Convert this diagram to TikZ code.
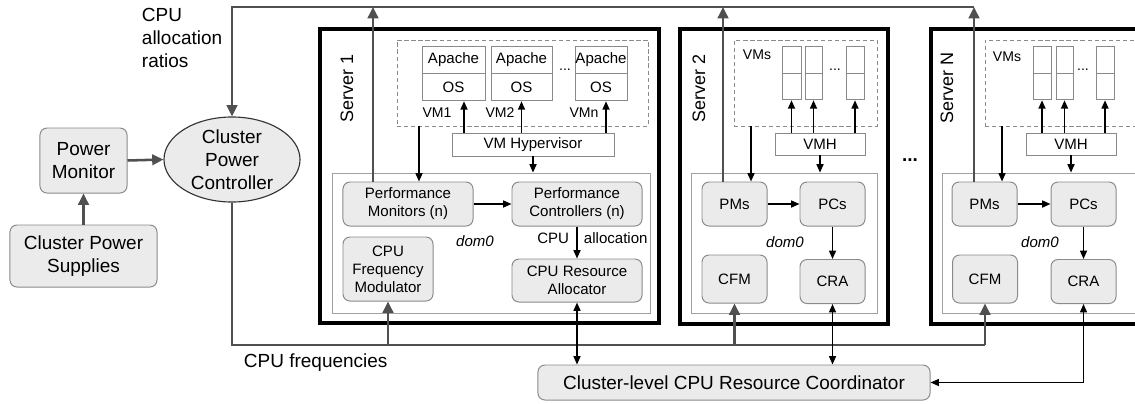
\documentclass[tikz,border=0pt]{standalone}
\usepackage{fontspec}
\setmainfont{Liberation Sans}
\usetikzlibrary{shapes.geometric, arrows.meta, calc, positioning}

\definecolor{boxfill}{HTML}{EBEBEB}
\definecolor{boxline}{HTML}{8A8A8A}
\definecolor{busgray}{HTML}{505050}

\newcommand{\lblfont}{\fontsize{13.5}{16.4}\selectfont}
\newcommand{\boxfont}{\fontsize{10.7}{12.8}\selectfont}
\newcommand{\vmfont}{\fontsize{10}{12}\selectfont}
\newcommand{\srvfont}{\fontsize{12.8}{15}\selectfont}

\begin{document}
\begin{tikzpicture}[x=0.025cm, y=-0.025cm,
  module/.style={draw=boxline, fill=boxfill, rounded corners=5pt, align=center, font=\boxfont, inner sep=0pt, line width=0.7pt},
  vmbox/.style={draw=boxline, fill=white, inner sep=0pt, font=\boxfont, line width=0.6pt},
  vmarea/.style={draw=boxline, dash pattern=on 3pt off 2pt, line width=0.6pt, inner sep=0pt},
  dombox/.style={draw=boxline!80, line width=0.6pt, inner sep=0pt},
  server/.style={draw=black, line width=2.2pt},
  srvlabel/.style={rotate=90, font=\srvfont},
  gline/.style={draw=busgray, line width=1.8pt},
  garrow/.style={gline, -{Triangle[length=8pt, width=7.5pt]}},
  sarrow/.style={black, line width=1.1pt, -{Triangle[length=6pt, width=5pt]}},
  darrow/.style={black, line width=1pt, {Triangle[length=6pt, width=5pt]}-{Triangle[length=6pt, width=5pt]}},
]
\useasboundingbox (0,0) rectangle (1135,403);
\clip (0,0) rectangle (1135,403);

% cluster power side
\node[module, minimum width=2.175cm, minimum height=1.625cm, font=\lblfont] (pm) at (83.5,160.5) {Power\\Monitor};
\node[module, minimum width=3.675cm, minimum height=1.55cm, font=\lblfont] (cps) at (83.5,256) {Cluster Power\\Supplies};
\node[ellipse, draw=black!80, fill=boxfill, line width=0.8pt, inner sep=-1pt, minimum width=3.4cm, minimum height=2.125cm, align=center, font=\lblfont] (cpc) at (232,159.5) {Cluster\\Power\\Controller};
\node[anchor=west, align=left, font=\lblfont] (ratios) at (137,38) {CPU\\allocation\\ratios};
\node[anchor=west, font=\lblfont] (freqs) at (239,363) {CPU frequencies};

\draw[server] (320,29) rectangle (659,323);
\draw[server] (680,29) rectangle (888,324);
\draw[server] (931,29) rectangle (1160,324);
\node[srvlabel] (s1) at (347,88) {Server 1};
\node[srvlabel] (s2) at (699,88) {Server 2};
\node[srvlabel] (sn) at (947,88) {Server N};
\node[font=\lblfont\bfseries] (gap) at (910,160) {...};

% server 1
\node[dombox, minimum width=7.95cm, minimum height=3.5cm] (dom1) at (491,243) {};
\node[vmarea, minimum width=6.275cm, minimum height=2.15cm] (vms1) at (522.5,83) {};
\node[vmbox, minimum width=1.575cm, minimum height=0.675cm] (ap1) at (453.5,59.5) {Apache};
\node[vmbox, minimum width=1.575cm, minimum height=0.675cm, below=0pt of ap1] (os1) {OS};
\node[vmbox, minimum width=1.525cm, minimum height=0.675cm] (ap2) at (521.5,59.5) {Apache};
\node[vmbox, minimum width=1.525cm, minimum height=0.675cm, below=0pt of ap2] (os2) {OS};
\node[vmbox, minimum width=1.3cm, minimum height=0.675cm] (apn) at (601,59.5) {Apache};
\node[vmbox, minimum width=1.3cm, minimum height=0.675cm, below=0pt of apn] (osn) {OS};
\node[font=\vmfont] (dots1) at (565,70) {...};
\node[font=\vmfont] (l1) at (437,113) {VM1};
\node[font=\vmfont] (l2) at (500,113) {VM2};
\node[font=\vmfont] (ln) at (584,113) {VMn};
\node[vmbox, minimum width=4.05cm, minimum height=0.575cm] (hv1) at (533,144.5) {VM Hypervisor};
\node[module, minimum width=3.25cm, minimum height=1.1cm] (pmon1) at (408,204) {Performance\\Monitors (n)};
\node[module, minimum width=3.25cm, minimum height=1.1cm] (pctl1) at (577,204) {Performance\\Controllers (n)};
\node[module, minimum width=2.25cm, minimum height=1.6cm] (cfm1) at (388,269) {CPU\\Frequency\\Modulator};
\node[module, minimum width=3.25cm, minimum height=1.075cm] (cra1) at (577,280.5) {CPU Resource\\Allocator};
\node[font=\boxfont\itshape] (d1) at (475,241) {dom0};
\node[font=\boxfont, anchor=east] (cpu1) at (574,238) {CPU};
\node[font=\boxfont, anchor=west] (alloc1) at (579,238) {allocation};

\draw[sarrow] ($(os1.south |- hv1.north)+(10.5,0)$) -- ($(os1.south)+(10.5,0)$);
\draw[sarrow] (os2.south |- hv1.north) -- (os2.south);
\draw[sarrow] ($(osn.south |- hv1.north)+(5,0)$) -- ($(osn.south)+(5,0)$);
\draw[sarrow] ($(pmon1.north |- vms1.south)+(11,0)$) -- ($(pmon1.north)+(11,0)$);
\draw[sarrow] (hv1.south) -- (hv1.south |- dom1.north);
\draw[sarrow] (pmon1.east) -- (pctl1.west);
\draw[sarrow] (pctl1.south) -- (cra1.north);

% server 2
\node[dombox, minimum width=4.65cm, minimum height=3.5cm] (dom2) at (784,243) {};
\node[vmarea, minimum width=3.575cm, minimum height=2.15cm] (vms2) at (805.5,83) {};
\node[font=\vmfont] (vl2) at (757,55) {VMs};
\node[vmbox, minimum width=0.475cm, minimum height=0.675cm] (vt21) at (791.5,59.5) {};
\node[vmbox, minimum width=0.475cm, minimum height=0.65cm, below=0pt of vt21] (vb21) {};
\node[vmbox, minimum width=0.425cm, minimum height=0.675cm] (vt22) at (813.5,59.5) {};
\node[vmbox, minimum width=0.425cm, minimum height=0.65cm, below=0pt of vt22] (vb22) {};
\node[vmbox, minimum width=0.45cm, minimum height=0.675cm] (vt23) at (855,59.5) {};
\node[vmbox, minimum width=0.45cm, minimum height=0.65cm, below=0pt of vt23] (vb23) {};
\node[font=\vmfont] (dots2) at (835,70) {...};
\node[vmbox, minimum width=2.25cm, minimum height=0.55cm] (vmh2) at (820,144) {VMH};
\node[module, minimum width=1.625cm, minimum height=1.1cm] (pms2) at (734.5,204) {PMs};
\node[module, minimum width=1.625cm, minimum height=1.1cm] (pcs2) at (832.5,204) {PCs};
\node[module, minimum width=1.625cm, minimum height=1.2cm] (cfm2) at (734.5,279) {CFM};
\node[module, minimum width=1.625cm, minimum height=1.1cm] (cra2) at (832.5,281.5) {CRA};
\node[font=\boxfont\itshape] (d2) at (785,242) {dom0};

\draw[sarrow] (vb21.south |- vmh2.north) -- (vb21.south);
\draw[sarrow] (vb22.south |- vmh2.north) -- (vb22.south);
\draw[sarrow] (vb23.south |- vmh2.north) -- (vb23.south);
\draw[sarrow] ($(pms2.north |- vms2.south)+(16.5,0)$) -- ($(pms2.north)+(16.5,0)$);
\draw[sarrow] (vmh2.south) -- (vmh2.south |- dom2.north);
\draw[sarrow] (pms2.east) -- (pcs2.west);
\draw[sarrow] (pcs2.south) -- (cra2.north);

% server N
\node[dombox, minimum width=5.2cm, minimum height=3.5cm] (domN) at (1046,243) {};
\node[vmarea, minimum width=4.125cm, minimum height=2.15cm] (vmsN) at (1067.5,83) {};
\node[font=\vmfont] (vlN) at (1007,57) {VMs};
\node[vmbox, minimum width=0.45cm, minimum height=0.675cm] (vtN1) at (1042,59.5) {};
\node[vmbox, minimum width=0.45cm, minimum height=0.65cm, below=0pt of vtN1] (vbN1) {};
\node[vmbox, minimum width=0.425cm, minimum height=0.675cm] (vtN2) at (1064.5,59.5) {};
\node[vmbox, minimum width=0.425cm, minimum height=0.65cm, below=0pt of vtN2] (vbN2) {};
\node[vmbox, minimum width=0.45cm, minimum height=0.675cm] (vtN3) at (1105,59.5) {};
\node[vmbox, minimum width=0.45cm, minimum height=0.65cm, below=0pt of vtN3] (vbN3) {};
\node[font=\vmfont] (dotsN) at (1083,70) {...};
\node[vmbox, minimum width=2.25cm, minimum height=0.55cm] (vmhN) at (1071,144) {VMH};
\node[module, minimum width=1.625cm, minimum height=1.1cm] (pmsN) at (984.5,204) {PMs};
\node[module, minimum width=1.625cm, minimum height=1.1cm] (pcsN) at (1083.5,204) {PCs};
\node[module, minimum width=1.625cm, minimum height=1.2cm] (cfmN) at (985,279) {CFM};
\node[module, minimum width=1.625cm, minimum height=1.1cm] (craN) at (1083.5,281.5) {CRA};
\node[font=\boxfont\itshape] (dN) at (1040,242) {dom0};

\draw[sarrow] (vbN1.south |- vmhN.north) -- (vbN1.south);
\draw[sarrow] (vbN2.south |- vmhN.north) -- (vbN2.south);
\draw[sarrow] (vbN3.south |- vmhN.north) -- (vbN3.south);
\draw[sarrow] ($(pmsN.north |- vmsN.south)+(17.5,0)$) -- ($(pmsN.north)+(17.5,0)$);
\draw[sarrow] (vmhN.south) -- (vmhN.south |- domN.north);
\draw[sarrow] (pmsN.east) -- (pcsN.west);
\draw[sarrow] (pcsN.south) -- (craN.north);

% cluster level links
\node[module, minimum width=9.8cm, minimum height=0.875cm, font=\lblfont] (coord) at (734,382.5) {Cluster-level CPU Resource Coordinator};
\coordinate (tbus) at (232,7);
\coordinate (fbus) at (232,345);
\coordinate (up1) at ($(pmon1.north)+(-35,0)$);
\coordinate (up2) at ($(pms2.north)+(-11.5,0)$);
\coordinate (upN) at ($(pmsN.north)+(-10.5,0)$);

\draw[garrow] (cps.north) -- (pm.south);
\draw[garrow] (pm.east) -- (cpc.west);
\draw[garrow] (upN |- tbus) -- (tbus) -- (cpc.north);
\draw[garrow] (up1) -- (up1 |- tbus);
\draw[garrow] (up2) -- (up2 |- tbus);
\draw[garrow] (upN) -- (upN |- tbus);
\draw[gline] (cpc.south) -- (fbus) -- (cfmN.south |- fbus);
\draw[garrow] (cfm1.south |- fbus) -- (cfm1.south);
\draw[garrow] (cfm2.south |- fbus) -- (cfm2.south);
\draw[garrow] (cfmN.south |- fbus) -- (cfmN.south);

\draw[darrow] (cra1.south) -- (cra1.south |- coord.north);
\draw[darrow] (cra2.south) -- (cra2.south |- coord.north);
\draw[darrow] (craN.south) |- (coord.east);

\end{tikzpicture}
\end{document}
